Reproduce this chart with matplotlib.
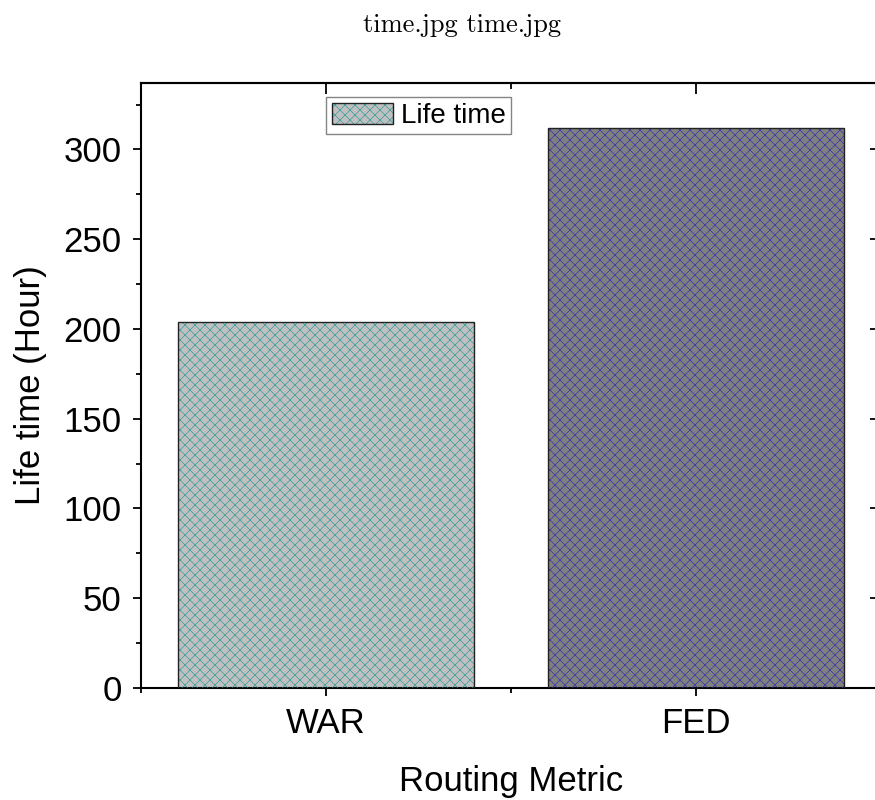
import matplotlib
matplotlib.use('Agg')
import matplotlib.pyplot as plt
from matplotlib.ticker import MultipleLocator
from matplotlib.legend_handler import HandlerTuple

# data
categories = ['WAR', 'FED']
life_time = [204, 312]
face_colors = ['#c0c0c0', '#808080']
hatch_colors = ['#2a9a9a', '#3030b0']

# hatch spacing follows the dpi, so render at 120 dpi and shrink point sizes to match
DPI = 120
k = 100 / DPI

plt.rcParams['font.family'] = ['Liberation Sans', 'DejaVu Sans']
plt.rcParams['hatch.linewidth'] = 0.45 * k

fig = plt.figure(figsize=(875 / DPI, 800 / DPI), dpi=DPI)
# right spine sits just past the right edge in the original, so let the axes run off
ax = fig.add_axes([141 / 875, 112 / 800, 740 / 875, 605 / 800])

x = [1, 2]
handles = []
for xi, val, fc, hc in zip(x, life_time, face_colors, hatch_colors):
    base = ax.bar(xi, val, width=0.8, color=fc, edgecolor='none', zorder=2)
    hat = ax.bar(xi, val, width=0.8, color='none', edgecolor=hc, hatch='xxxx',
                 linewidth=0, zorder=3)
    edge = ax.bar(xi, val, width=0.8, color='none', edgecolor='#222222',
                  linewidth=1.0 * k, zorder=4)
    handles.append((base[0], hat[0], edge[0]))

ax.set_xlim(0.5, 2.5)
ax.set_ylim(0, 337)
ax.set_xticks(x)
ax.set_xticklabels(categories)
ax.xaxis.set_minor_locator(MultipleLocator(0.5))
ax.yaxis.set_major_locator(MultipleLocator(50))
ax.yaxis.set_minor_locator(MultipleLocator(25))

ax.tick_params(axis='both', which='major', labelsize=25 * k, length=6 * k,
               width=1.3 * k, direction='out')
ax.tick_params(axis='y', which='major', pad=8 * k)
ax.tick_params(axis='x', which='major', pad=8 * k)
ax.tick_params(axis='both', which='minor', length=3.5 * k, width=1.3 * k,
               direction='out')
for s in ax.spines.values():
    s.set_linewidth(1.5 * k)

# top and right ticks point inward
top = ax.secondary_xaxis('top')
top.set_xticks(x)
top.xaxis.set_minor_locator(MultipleLocator(0.5))
top.tick_params(which='major', direction='in', length=8 * k, width=1.3 * k, labeltop=False)
top.tick_params(which='minor', direction='in', length=4 * k, width=1.3 * k)
top.spines['top'].set_linewidth(1.5 * k)
right = ax.secondary_yaxis('right')
right.yaxis.set_major_locator(MultipleLocator(50))
right.yaxis.set_minor_locator(MultipleLocator(25))
right.tick_params(which='major', direction='in', length=8 * k, width=1.3 * k, labelright=False)
right.tick_params(which='minor', direction='in', length=4 * k, width=1.3 * k)

ax.set_ylabel('Life time (Hour)', fontsize=25 * k, labelpad=12 * k)
ax.set_xlabel('Routing Metric', fontsize=25 * k, labelpad=18 * k)

leg = ax.legend([handles[0]], ['Life time'], loc='upper left',
                bbox_to_anchor=(326 / 875, 1 - 97 / 800),
                bbox_transform=fig.transFigure, borderaxespad=0,
                fontsize=20 * k, frameon=True, fancybox=False,
                handlelength=2.2, handleheight=0.8, handletextpad=0.3,
                borderpad=0.2, handler_map={tuple: HandlerTuple(ndivide=1, pad=0)})
leg.get_frame().set_edgecolor('#666666')
leg.get_frame().set_linewidth(1.0 * k)

fig.text(462 / 875, 1 - 25 / 800, 'time.jpg time.jpg', family='cmr10',
         fontsize=19 * k, ha='center', va='center')

fig.savefig('out.png', dpi=DPI)
